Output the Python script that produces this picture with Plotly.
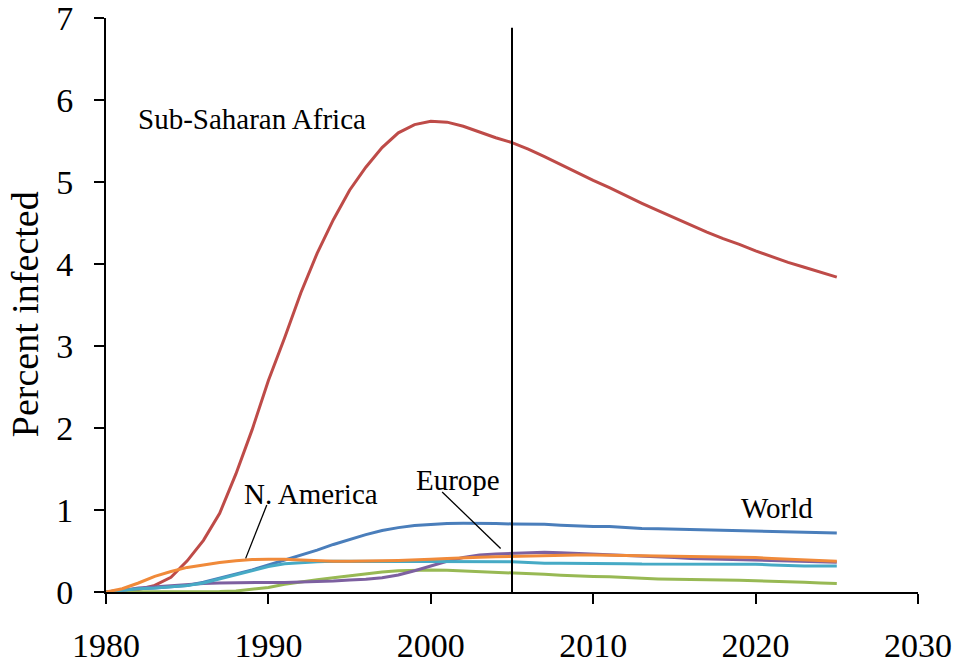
import plotly.graph_objects as go

years = list(range(1980, 2026))

world = [0.0, 0.02, 0.04, 0.05, 0.065, 0.08, 0.12, 0.17, 0.22, 0.27,
         0.33, 0.39, 0.45, 0.51, 0.58, 0.64, 0.70, 0.75, 0.785, 0.81,
         0.825, 0.835, 0.837, 0.84, 0.835, 0.83, 0.83, 0.825, 0.815, 0.805,
         0.80, 0.80, 0.785, 0.775, 0.77, 0.765, 0.765, 0.755, 0.748, 0.746,
         0.744, 0.737, 0.735, 0.725, 0.72, 0.72]

ssa = [0.0, 0.01, 0.03, 0.08, 0.18, 0.38, 0.63, 0.96, 1.44, 1.98,
       2.58, 3.1, 3.65, 4.13, 4.54, 4.9, 5.18, 5.42, 5.6, 5.7,
       5.74, 5.73, 5.68, 5.61, 5.54, 5.48, 5.40, 5.31, 5.21, 5.12,
       5.02, 4.93, 4.83, 4.74, 4.65, 4.56, 4.47, 4.39, 4.31, 4.24,
       4.16, 4.09, 4.02, 3.96, 3.90, 3.84]

green_region = [0.0, 0.0, 0.0, 0.0, 0.0, 0.0, 0.0, 0.005, 0.012, 0.03,
                0.055, 0.095, 0.125, 0.15, 0.175, 0.2, 0.225, 0.245, 0.26, 0.265,
                0.268, 0.265, 0.258, 0.25, 0.238, 0.23, 0.225, 0.215, 0.205, 0.195,
                0.19, 0.185, 0.175, 0.163, 0.16, 0.155, 0.155, 0.15, 0.146, 0.142,
                0.138, 0.132, 0.126, 0.118, 0.11, 0.105]

europe = [0.0, 0.02, 0.05, 0.065, 0.08, 0.095, 0.105, 0.11, 0.115, 0.117,
          0.117, 0.117, 0.12, 0.125, 0.134, 0.145, 0.155, 0.175, 0.207, 0.26,
          0.315, 0.375, 0.42, 0.45, 0.463, 0.47, 0.48, 0.485, 0.48, 0.472,
          0.466, 0.46, 0.45, 0.44, 0.43, 0.42, 0.41, 0.405, 0.40, 0.395,
          0.39, 0.385, 0.378, 0.372, 0.367, 0.363]

teal_region = [0.0, 0.02, 0.04, 0.05, 0.065, 0.08, 0.11, 0.16, 0.21, 0.26,
               0.31, 0.345, 0.36, 0.37, 0.375, 0.375, 0.372, 0.372, 0.372, 0.37,
               0.37, 0.37, 0.37, 0.37, 0.37, 0.37, 0.36, 0.35, 0.35, 0.35,
               0.35, 0.35, 0.345, 0.34, 0.34, 0.34, 0.345, 0.345, 0.345, 0.34,
               0.338, 0.33, 0.322, 0.318, 0.317, 0.317]

n_america = [0.0, 0.04, 0.11, 0.19, 0.25, 0.30, 0.33, 0.36, 0.38, 0.395,
             0.40, 0.40, 0.39, 0.38, 0.375, 0.375, 0.375, 0.38, 0.385, 0.39,
             0.40, 0.41, 0.42, 0.425, 0.43, 0.435, 0.44, 0.44, 0.445, 0.45,
             0.45, 0.447, 0.445, 0.443, 0.44, 0.44, 0.44, 0.435, 0.43, 0.425,
             0.42, 0.41, 0.40, 0.395, 0.385, 0.375]

series = [
    ("World", world, "#4A7EBB"),
    ("Sub-Saharan Africa", ssa, "#BE4B48"),
    ("Region (green)", green_region, "#98B954"),
    ("Europe", europe, "#7D60A0"),
    ("Region (teal)", teal_region, "#46AAC5"),
    ("N. America", n_america, "#F08A3A"),
]

x_ticks = [1980, 1990, 2000, 2010, 2020, 2030]
y_ticks = [0, 1, 2, 3, 4, 5, 6, 7]

FONT = "Liberation Serif, Times New Roman, serif"

fig = go.Figure()
for name, vals, color in series:
    fig.add_trace(go.Scatter(x=years, y=vals, mode="lines", name=name,
                             line=dict(color=color, width=3)))

fig.update_layout(
    width=955, height=665,
    margin=dict(l=106, r=37, t=18, b=73),
    paper_bgcolor="white", plot_bgcolor="white",
    showlegend=False,
    font=dict(family=FONT, size=29, color="black"),
)
fig.update_xaxes(
    range=[1980, 2030], tickvals=x_ticks, ticktext=[str(t) for t in x_ticks],
    showgrid=False, zeroline=False, automargin=False,
    showline=True, linecolor="black", linewidth=2,
    ticks="outside", ticklen=10, tickwidth=1.5, tickcolor="black",
    ticklabelstandoff=12, ticklabeloverflow="allow",
    tickfont=dict(family=FONT, size=34),
)
fig.update_yaxes(
    range=[0, 7], tickvals=y_ticks,
    showgrid=False, zeroline=False, automargin=False,
    showline=True, linecolor="black", linewidth=2,
    ticks="outside", ticklen=10, tickwidth=1.5, tickcolor="black",
    ticklabelstandoff=14, ticklabeloverflow="allow",
    tickfont=dict(family=FONT, size=34),
)

# y-axis title, placed like the reference (slightly below centre)
fig.add_annotation(text="Percent infected", xref="paper", yref="paper",
                   x=-0.0998, y=0.484, xanchor="center", yanchor="middle",
                   textangle=-90, showarrow=False,
                   font=dict(family=FONT, size=38, color="black"))

# vertical marker at 2005
fig.add_shape(type="line", xref="x", yref="y", x0=2005, x1=2005, y0=0, y1=6.88,
              line=dict(color="black", width=2))

# label pointers
fig.add_shape(type="line", xref="x", yref="y", x0=1989.9, y0=1.06, x1=1988.6, y1=0.41,
              line=dict(color="black", width=1.3))
fig.add_shape(type="line", xref="x", yref="y", x0=2000.7, y0=1.22, x1=2004.3, y1=0.53,
              line=dict(color="black", width=1.3))

labels = [
    ("Sub-Saharan Africa", 1989.0, 5.77),
    ("N. America", 1992.6, 1.19),
    ("Europe", 2001.7, 1.36),
    ("World", 2021.3, 1.02),
]
for text, lx, ly in labels:
    fig.add_annotation(x=lx, y=ly, xref="x", yref="y", text=text, showarrow=False,
                       font=dict(family=FONT, size=29, color="black"))

# remove the default 8px page margin so the 955x665 figure fills the window exactly
fig.write_html("out.html",
               config={"displayModeBar": False},
               post_script="document.body.style.margin='0';document.body.style.overflow='hidden';")
